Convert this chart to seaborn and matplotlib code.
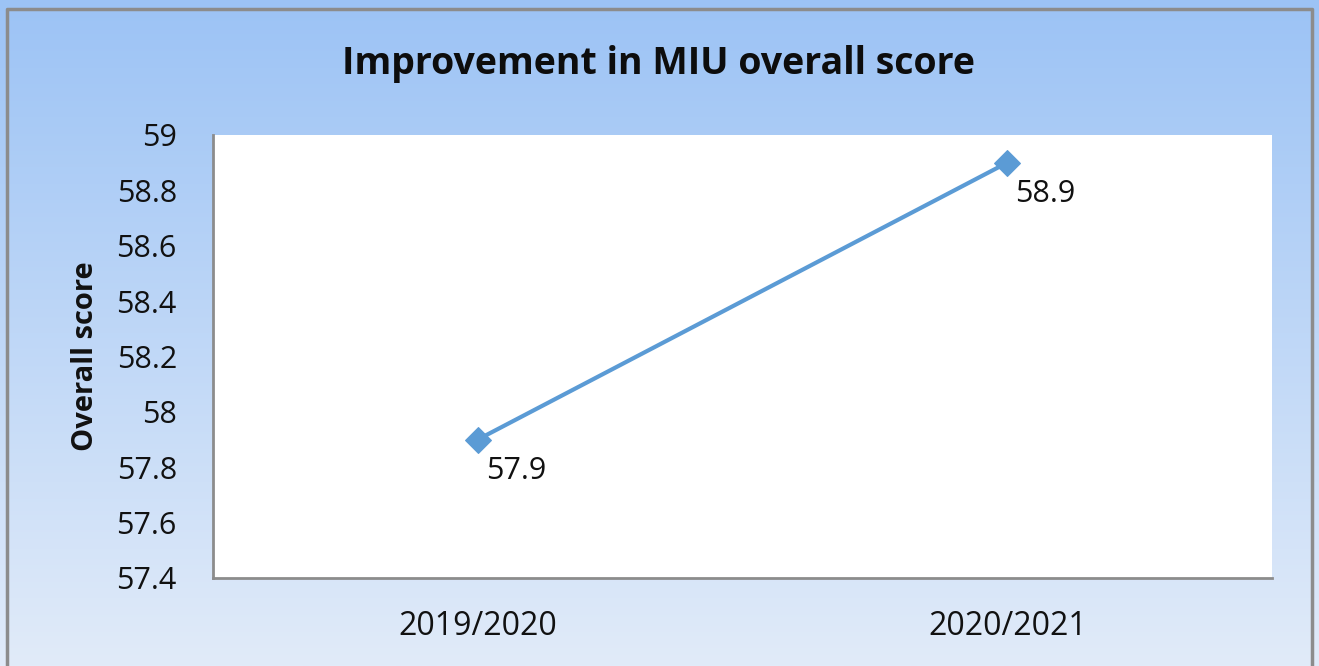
import numpy as np
import pandas as pd
import matplotlib
matplotlib.use("Agg")
import matplotlib.pyplot as plt
import seaborn as sns
from matplotlib.colors import LinearSegmentedColormap

# Data
years = ["2019/2020", "2020/2021"]
scores = [57.9, 58.9]
y_ticks = [57.4, 57.6, 57.8, 58.0, 58.2, 58.4, 58.6, 58.8, 59.0]
y_tick_labels = ["57.4", "57.6", "57.8", "58", "58.2", "58.4", "58.6", "58.8", "59"]

df = pd.DataFrame({"Year": years, "Score": scores})

sns.set_style("white")
plt.rcParams['font.family'] = ['Open Sans', 'DejaVu Sans']

fig = plt.figure(figsize=(13.19, 6.66), dpi=100)

# Gradient background
bg = fig.add_axes([0, 0, 1, 1], zorder=0)
grad = np.linspace(0, 1, 256).reshape(-1, 1)
cmap = LinearSegmentedColormap.from_list("bg", ["#9cc3f5", "#e1ebf9"])
bg.imshow(grad, aspect="auto", cmap=cmap, extent=[0, 1, 0, 1], origin="upper")
bg.set_xlim(0, 1)
bg.set_ylim(0, 1)
bg.axis("off")
# outer border
W, H = 1319, 666
bg.plot([7 / W, 7 / W, 1312 / W, 1312 / W], [0, 1 - 9 / H, 1 - 9 / H, 0],
        color="#8c8c8c", lw=2.5, transform=bg.transAxes)

# Plot area
left, right, top, bottom = 213 / W, 1272 / W, 135 / H, 578 / H
ax = fig.add_axes([left, 1 - bottom, right - left, bottom - top], zorder=1)
ax.set_facecolor("white")

sns.lineplot(data=df, x="Year", y="Score", ax=ax, color="#5b9bd5", lw=3,
             marker="D", markersize=13, markeredgecolor="#5b9bd5", sort=False)

for i, (yr, sc) in enumerate(zip(years, scores)):
    ax.annotate(f"{sc:g}", xy=(i, sc), xytext=(8, -31), textcoords="offset pixels",
                ha="left", va="center", fontsize=22, color="#111111")

ax.set_xlim(-0.5, 1.5)
ax.set_ylim(57.4, 59)
ax.set_yticks(y_ticks)
ax.set_yticklabels(y_tick_labels)
ax.tick_params(axis="y", labelsize=22, length=0, pad=26, colors="#111111")
ax.tick_params(axis="x", labelsize=23, length=0, pad=23, colors="#111111")
ax.set_xlabel("")
ax.set_ylabel("Overall score", fontsize=21, fontweight="bold", labelpad=12,
              color="#111111")

for side in ["top", "right"]:
    ax.spines[side].set_visible(False)
for side in ["left", "bottom"]:
    ax.spines[side].set_color("#8c8c8c")
    ax.spines[side].set_linewidth(2)

fig.text(659 / W, 1 - 64 / H, "Improvement in MIU overall score", ha="center",
         va="center", fontsize=27, fontweight="bold", color="#0d0d0d")

fig.savefig("out.png", dpi=100)
